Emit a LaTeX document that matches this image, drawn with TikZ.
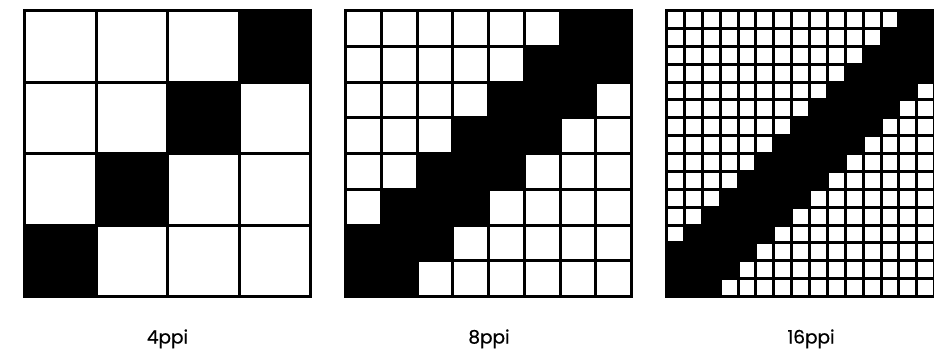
\documentclass[tikz,border=0pt]{standalone}
\usepackage{fontspec}
\setmainfont{Poppins}[FakeBold=0]
\newfontfamily\lblfont{Poppins}[FakeBold=0.6]
\begin{document}
\begin{tikzpicture}[x=1pt,y=-1pt,
  gridline/.style={line width=3pt, black, line cap=rect},
  lbl/.style={font=\lblfont\fontsize{18.5}{20}\selectfont, anchor=base, inner sep=0pt}]
\useasboundingbox (0,0) rectangle (934,356);
\def\gs{286}
\def\gy{10.5}
\begin{scope}
\clip (0,0) rectangle (934,356);
% ---- 4ppi ----
\def\gx{24.5}\def\pp{71.5}
\foreach \r in {0,...,3} {
  \fill[black] ({\gx+\pp*(3-\r)},{\gy+\pp*\r}) rectangle ++(\pp,\pp);
}
\foreach \i in {0,...,4} {
  \draw[gridline] ({\gx+\pp*\i},\gy) -- ({\gx+\pp*\i},{\gy+\gs});
  \draw[gridline] (\gx,{\gy+\pp*\i}) -- ({\gx+\gs},{\gy+\pp*\i});
}
% ---- 8ppi ----
\def\gx{345.5}\def\pp{35.75}
\foreach \r in {0,...,7} {
  \foreach \k in {0,1,2} {
    \pgfmathtruncatemacro\cc{6-\r+\k}
    \ifnum\cc>-1 \ifnum\cc<8
      \fill[black] ({\gx+\pp*\cc},{\gy+\pp*\r}) rectangle ++(\pp,\pp);
    \fi\fi
  }
}
\foreach \i in {0,...,8} {
  \draw[gridline] ({\gx+\pp*\i},\gy) -- ({\gx+\pp*\i},{\gy+\gs});
  \draw[gridline] (\gx,{\gy+\pp*\i}) -- ({\gx+\gs},{\gy+\pp*\i});
}
% ---- 16ppi ----
\def\gx{666.5}\def\pp{17.875}
\foreach \r in {0,...,15} {
  \foreach \k in {0,...,4} {
    \pgfmathtruncatemacro\cc{13-\r+\k}
    \ifnum\cc>-1 \ifnum\cc<16
      \fill[black] ({\gx+\pp*\cc},{\gy+\pp*\r}) rectangle ++(\pp,\pp);
    \fi\fi
  }
}
\foreach \i in {0,...,16} {
  \draw[gridline] ({\gx+\pp*\i},\gy) -- ({\gx+\pp*\i},{\gy+\gs});
  \draw[gridline] (\gx,{\gy+\pp*\i}) -- ({\gx+\gs},{\gy+\pp*\i});
}
\end{scope}
\node[lbl] (l4) at (167.5,343.5) {4ppi};
\node[lbl] (l8) at (489,343.5) {8ppi};
\node[lbl] (l16) at (811,343.5) {16ppi};
\end{tikzpicture}
\end{document}
